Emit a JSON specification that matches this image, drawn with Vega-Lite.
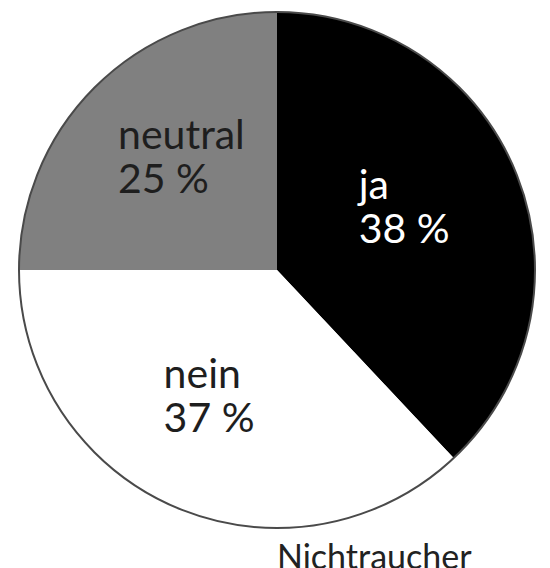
{
  "$schema": "https://vega.github.io/schema/vega-lite/v6.json",
  "width": 516,
  "height": 516,
  "autosize": {"type": "none"},
  "padding": {"left": 19, "top": 12, "right": 15, "bottom": 40},
  "background": "white",
  "config": {"view": {"stroke": null}},
  "title": {
    "text": "Nichtraucher",
    "orient": "bottom",
    "anchor": "start",
    "frame": "group",
    "dx": 258,
    "offset": 37,
    "baseline": "alphabetic",
    "font": "Lato",
    "fontSize": 34,
    "fontWeight": "normal",
    "color": "#222222"
  },
  "data": {
    "values": [
      {"label": "ja", "pct": 38, "rank": 1, "text": "ja\n38 %"},
      {"label": "nein", "pct": 37, "rank": 2, "text": "nein\n37 %"},
      {"label": "neutral", "pct": 25, "rank": 3, "text": "neutral\n25 %"}
    ]
  },
  "layer": [
    {
      "mark": {"type": "arc", "radius": 258},
      "encoding": {
        "theta": {"field": "pct", "type": "quantitative", "stack": true},
        "order": {"field": "rank", "type": "quantitative"},
        "color": {
          "field": "label",
          "type": "nominal",
          "scale": {"domain": ["ja", "nein", "neutral"], "range": ["#000000", "#ffffff", "#808080"]},
          "legend": null
        }
      }
    },
    {
      "mark": {
        "type": "text",
        "radius": 147,
        "align": "left",
        "baseline": "middle",
        "dx": -55,
        "dy": -29,
        "font": "Lato",
        "fontSize": 41,
        "lineHeight": 44,
        "lineBreak": "\n"
      },
      "encoding": {
        "theta": {"field": "pct", "type": "quantitative", "stack": true},
        "order": {"field": "rank", "type": "quantitative"},
        "text": {"field": "text", "type": "nominal"},
        "color": {"condition": {"test": "datum.label === 'ja'", "value": "#ffffff"}, "value": "#1e1e1e"}
      }
    },
    {
      "data": {"values": [{"whole": 1}]},
      "mark": {"type": "arc", "radius": 258, "fill": null, "fillOpacity": 0, "stroke": "#4a4a4a", "strokeWidth": 2},
      "encoding": {
        "theta": {"field": "whole", "type": "quantitative"}
      }
    }
  ],
  "resolve": {"scale": {"theta": "independent", "color": "independent"}}
}
